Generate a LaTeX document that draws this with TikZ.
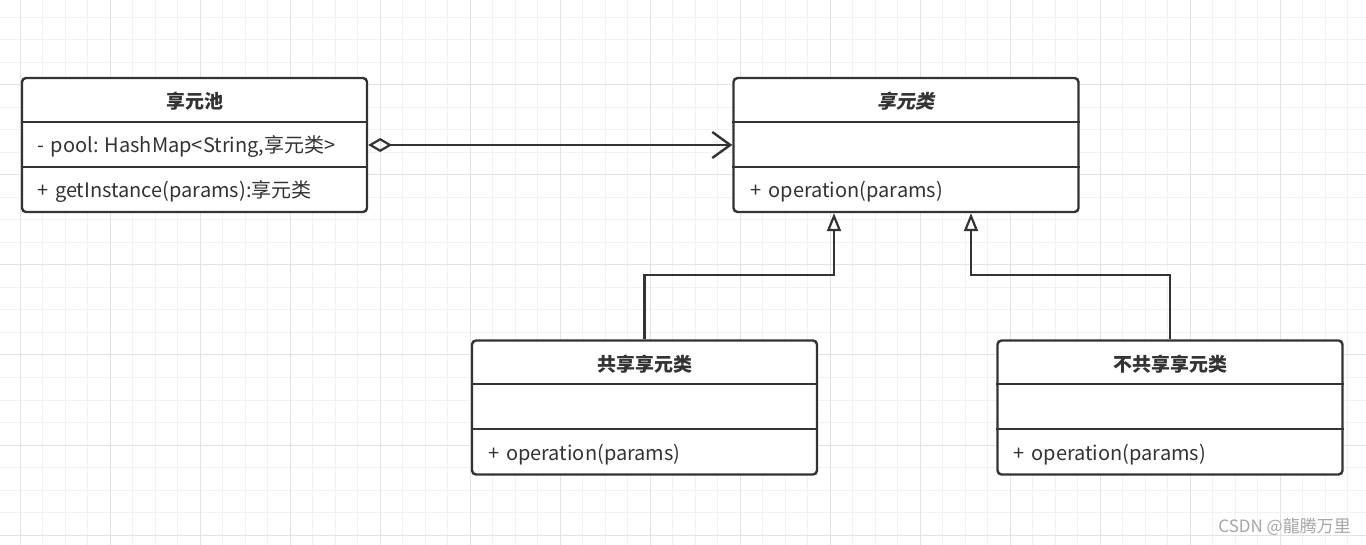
\documentclass[tikz,border=0pt]{standalone}
\usepackage{fontspec}
\setmainfont{Noto Sans CJK SC}
\newfontfamily\slantfont[FakeSlant=0.2, BoldFeatures={FakeSlant=0.2}]{Noto Sans CJK SC}
\usetikzlibrary{arrows.meta}
\definecolor{gridminor}{HTML}{F2F2F2}
\definecolor{gridmajor}{HTML}{E2E2E2}
\definecolor{ink}{HTML}{333333}
\definecolor{wmark}{HTML}{A6A6A6}
\newcommand{\vis}{\hspace{7pt}}
\tikzset{
  umlbox/.style={draw=ink, line width=2.4pt, rounded corners=4pt, fill=white,
    minimum width=345pt, minimum height=134pt, inner sep=0pt},
  sepline/.style={draw=ink, line width=2.2pt},
  title/.style={font=\fontsize{19}{22}\selectfont\bfseries, text=ink, inner sep=0pt},
  member/.style={font=\fontsize{20}{22}\selectfont, text=ink, anchor=west, inner sep=0pt},
  conn/.style={draw=ink, line width=2.4pt},
  minorline/.style={draw=gridminor, line width=1pt},
  majorline/.style={draw=gridmajor, line width=1pt},
}
\begin{document}
\begin{tikzpicture}[x=1pt,y=-1pt]
\useasboundingbox (0,0) rectangle (1366,545);
\fill[white] (0,0) rectangle (1366,545);
% grid
\foreach \i in {-1,...,60} \draw[minorline] ({20+22.5*\i},0) -- ({20+22.5*\i},545);
\foreach \j in {0,...,23} \draw[minorline] (0,{17.5+22.5*\j}) -- (1366,{17.5+22.5*\j});
\foreach \i in {0,...,15} \draw[majorline] ({20+90*\i},0) -- ({20+90*\i},545);
\foreach \j in {1,...,6} \draw[majorline] (0,{-5+90*\j}) -- (1366,{-5+90*\j});

% boxes
\node[umlbox] (pool) at (194.5,145) {};
\node[umlbox] (fly) at (906,145) {};
\node[umlbox] (share) at (644.5,407.5) {};
\node[umlbox] (unshare) at (1170,407.5) {};

\foreach \b in {pool,fly,share,unshare}{
  \draw[sepline] ([yshift=-45pt]\b.north west) -- ([yshift=-45pt]\b.north east);
  \draw[sepline] ([yshift=-90pt]\b.north west) -- ([yshift=-90pt]\b.north east);
}

% texts
\node[title] (poolT) at ([yshift=-24.5pt]pool.north) {享元池};
\node[member] (poolA) at ([xshift=16pt,yshift=-70pt]pool.north west) {-\vis pool: HashMap<String,享元类>};
\node[member] (poolM) at ([xshift=16pt,yshift=-115pt]pool.north west) {+\vis getInstance(params):享元类};

\node[title, font=\fontsize{19}{22}\selectfont\slantfont\bfseries] (flyT) at ([yshift=-24.5pt]fly.north) {享元类};
\node[member] (flyM) at ([xshift=18pt,yshift=-115pt]fly.north west) {+\vis operation(params)};

\node[title] (shareT) at ([yshift=-24.5pt]share.north) {共享享元类};
\node[member] (shareM) at ([xshift=17pt,yshift=-115pt]share.north west) {+\vis operation(params)};

\node[title] (unshareT) at ([yshift=-24.5pt]unshare.north) {不共享享元类};
\node[member] (unshareM) at ([xshift=17pt,yshift=-115pt]unshare.north west) {+\vis operation(params)};

% connectors
\draw[conn, {Diamond[open,length=24pt,width=14pt,line width=2.2pt]}-{Straight Barb[length=18pt,width=26pt,line width=2.4pt]}]
  (pool.east) -- (fly.west);
\coordinate (g1) at (834,275);
\coordinate (g2) at (971,275);
\draw[conn, -{Triangle[open,length=18pt,width=14pt,line width=2.2pt]}]
  (share.north) |- (g1) -- (g1 |- fly.south);
\draw[conn, -{Triangle[open,length=18pt,width=14pt,line width=2.2pt]}]
  (unshare.north) |- (g2) -- (g2 |- fly.south);

% watermark
\node[font=\fontsize{17}{19}\selectfont, text=wmark, anchor=east, inner sep=0pt] (wm) at (1351,527) {CSDN @龍腾万里};
\end{tikzpicture}
\end{document}
